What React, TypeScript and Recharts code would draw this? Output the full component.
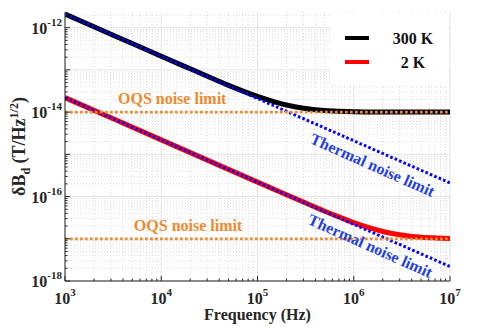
import React from "react";
import { CartesianGrid, Line, LineChart, ReferenceDot, XAxis, YAxis } from "recharts";

// noise curves (log-log)
const freq300 = [1e3, 2e3, 5e3, 1e4, 2e4, 5e4, 1e5, 1.5e5, 2e5, 3e5, 5e5, 7e5, 1e6, 2e6, 5e6, 1e7];
const dB300 = [2.1e-12, 1.05e-12, 4.2e-13, 2.1e-13, 1.06e-13, 4.3e-14, 2.35e-14, 1.75e-14, 1.47e-14, 1.23e-14, 1.09e-14, 1.05e-14, 1.025e-14, 1.008e-14, 1.002e-14, 1.0e-14];

const freq2K = [1e3, 1e4, 1e5, 2e5, 3e5, 5e5, 7e5, 1e6, 1.5e6, 2e6, 3e6, 4e6, 5e6, 7e6, 1e7];
const dB2K = [2.2e-14, 2.2e-15, 2.2e-16, 1.105e-16, 7.4e-17, 4.5e-17, 3.3e-17, 2.42e-17, 1.78e-17, 1.49e-17, 1.24e-17, 1.13e-17, 1.09e-17, 1.05e-17, 1.02e-17];

const limitFreq = [1e3, 1e7];
const thermal300 = [2.1e-12, 2.1e-16];
const thermal2K = [2.2e-14, 2.2e-18];
const oqs300 = [1e-14, 1e-14];
const oqs2K = [1e-17, 1e-17];

const seriesNames = ["300 K", "2 K"];
const xDecades = [1e3, 1e4, 1e5, 1e6, 1e7];
const yDecades = [1e-18, 1e-17, 1e-16, 1e-15, 1e-14, 1e-13, 1e-12];
const yLabelled = [-18, -16, -14, -12];
const yTop = 2.35e-12;

const toRows = (fs: number[], vs: number[]) => fs.map((f, i) => ({ f, v: vs[i] }));
const minorOf = (decades: number[], max: number) =>
  decades.flatMap((d) => [2, 3, 4, 5, 6, 7, 8, 9].map((m) => m * d)).filter((v) => v <= max);

const xMinor = minorOf(xDecades.slice(0, -1), 1e7);
const yMinor = minorOf(yDecades, yTop);
const xTicks = [...xDecades, ...xMinor].sort((a, b) => a - b);
const yTicks = [...yDecades, ...yMinor].sort((a, b) => a - b);

const FONT = '"Liberation Serif", "Times New Roman", serif';
const AX = "#262626";
const ORANGE = "#EE8A2F";
const BLUE = "#0000FF";
const BLUE_TXT = "#1f3fe6";

const expOf = (v: number) => Math.round(Math.log10(v));
const isDecade = (v: number) => Math.abs(v / 10 ** expOf(v) - 1) < 1e-6;

const XTick = (p: any) => {
  const { x, y, payload, side } = p;
  const v = payload.value;
  const major = isDecade(v);
  const len = major ? 5 : 2.5;
  const dir = side === "bottom" ? -1 : 1;
  return (
    <g>
      <line x1={x} y1={y} x2={x} y2={y + dir * len} stroke={AX} strokeWidth={1} />
      {side === "bottom" && major && (
        <text x={x} y={y + 23} textAnchor="middle" fontFamily={FONT} fontWeight="bold" fill={AX}>
          <tspan fontSize={16}>10</tspan>
          <tspan fontSize={11} dy={-8}>{expOf(v)}</tspan>
        </text>
      )}
    </g>
  );
};

const YTick = (p: any) => {
  const { x, y, payload, side } = p;
  const v = payload.value;
  const major = isDecade(v);
  const len = major ? 5 : 2.5;
  const dir = side === "left" ? 1 : -1;
  const e = expOf(v);
  return (
    <g>
      <line x1={x} y1={y} x2={x + dir * len} y2={y} stroke={AX} strokeWidth={1} />
      {side === "left" && major && yLabelled.includes(e) && (
        <text x={x - 3} y={y + 6} textAnchor="end" fontFamily={FONT} fontWeight="bold" fill={AX}>
          <tspan fontSize={16}>10</tspan>
          <tspan fontSize={11} dy={-8}>{e}</tspan>
        </text>
      )}
    </g>
  );
};

const note = (text: string, color: string, angle: number) => (props: any) => {
  const vb = props.viewBox;
  const cx = vb.x + vb.width / 2;
  const cy = vb.y + vb.height / 2;
  return (
    <text
      x={cx}
      y={cy}
      textAnchor="middle"
      dominantBaseline="central"
      transform={`rotate(${angle} ${cx} ${cy})`}
      fontFamily={FONT}
      fontWeight="bold"
      fontSize={16}
      fill={color}
    >
      {text}
    </text>
  );
};

const XLabel = (props: any) => {
  const vb = props.viewBox;
  return (
    <text x={vb.x + vb.width / 2} y={vb.y + 39} textAnchor="middle" fontFamily={FONT} fontWeight="bold" fontSize={16} fill={AX}>
      Frequency (Hz)
    </text>
  );
};

const YLabel = (props: any) => {
  const vb = props.viewBox;
  const cx = vb.x + 17;
  const cy = vb.y + vb.height / 2;
  return (
    <text x={cx} y={cy} textAnchor="middle" transform={`rotate(-90 ${cx} ${cy})`} fontFamily={FONT} fontWeight="bold" fontSize={18} fill={AX}>
      <tspan>δB</tspan>
      <tspan fontSize={12} dy={5}>d</tspan>
      <tspan dy={-5}> (T/Hz</tspan>
      <tspan fontSize={12} dy={-7}>1/2</tspan>
      <tspan dy={7}>)</tspan>
    </text>
  );
};

const Legend = () => (
  <svg width={118} height={71} style={{ position: "absolute", left: 322, top: 6 }}>
    <rect x={0} y={0} width={118} height={71} fill="#fff" />
    <line x1={15} y1={24} x2={39} y2={24} stroke="#000" strokeWidth={4} />
    <line x1={15} y1={48} x2={39} y2={48} stroke="#ff0000" strokeWidth={4} />
    <text x={83} y={29.5} textAnchor="middle" fontFamily={FONT} fontWeight="bold" fontSize={16} fill="#111">{seriesNames[0]}</text>
    <text x={83} y={53.5} textAnchor="middle" fontFamily={FONT} fontWeight="bold" fontSize={16} fill="#111">{seriesNames[1]}</text>
  </svg>
);

export default function App() {
  const xProps = { type: "number" as const, scale: "log" as const, domain: [1e3, 1e7], allowDataOverflow: true, ticks: xTicks, interval: 0, tickSize: 0, tickMargin: 0, axisLine: { stroke: AX } };
  const yProps = { type: "number" as const, scale: "log" as const, domain: [1e-18, yTop], allowDataOverflow: true, ticks: yTicks, interval: 0, tickSize: 0, tickMargin: 0, axisLine: { stroke: AX } };
  return (
    <div style={{ position: "relative", width: 490, height: 321 }}>
      <LineChart width={490} height={321} margin={{ top: 4, right: 48, bottom: 0, left: 0 }}>
        <CartesianGrid horizontalValues={yMinor} verticalValues={xMinor} stroke="#dcdcdc" strokeDasharray="1 2" />
        <CartesianGrid horizontalValues={yDecades} verticalValues={xDecades} stroke="#e4e4e4" />
        <XAxis {...xProps} dataKey="f" height={48} tick={(p: any) => <XTick {...p} side="bottom" />} label={{ content: XLabel }} />
        <XAxis {...xProps} xAxisId="top" orientation="top" height={0} tick={(p: any) => <XTick {...p} side="top" />} />
        <YAxis {...yProps} width={57} tick={(p: any) => <YTick {...p} side="left" />} label={{ content: YLabel }} />
        <YAxis {...yProps} yAxisId="right" orientation="right" width={0} tick={(p: any) => <YTick {...p} side="right" />} />
        <Line data={toRows(freq300, dB300)} dataKey="v" name={seriesNames[0]} type="monotone" stroke="#000" strokeWidth={5} dot={false} isAnimationActive={false} />
        <Line data={toRows(freq2K, dB2K)} dataKey="v" name={seriesNames[1]} type="monotone" stroke="#ff0000" strokeWidth={5} dot={false} isAnimationActive={false} />
        <Line data={toRows(limitFreq, thermal300)} dataKey="v" name="thermal300" stroke={BLUE} strokeWidth={3} strokeDasharray="2.6 2.2" dot={false} isAnimationActive={false} />
        <Line data={toRows(limitFreq, thermal2K)} dataKey="v" name="thermal2K" stroke={BLUE} strokeWidth={3} strokeDasharray="2.6 2.2" dot={false} isAnimationActive={false} />
        <Line data={toRows(limitFreq, oqs300)} dataKey="v" name="oqs300" stroke={ORANGE} strokeWidth={2.7} strokeDasharray="2.7 2.3" dot={false} isAnimationActive={false} />
        <Line data={toRows(limitFreq, oqs2K)} dataKey="v" name="oqs2K" stroke={ORANGE} strokeWidth={2.7} strokeDasharray="2.7 2.3" dot={false} isAnimationActive={false} />
        <ReferenceDot x={1.3e4} y={2.15e-14} r={1} fill="none" stroke="none" label={note("OQS noise limit", ORANGE, 0)} />
        <ReferenceDot x={1.9e4} y={2.1e-17} r={1} fill="none" stroke="none" label={note("OQS noise limit", ORANGE, 0)} />
        <ReferenceDot x={1.57e6} y={5.6e-16} r={1} fill="none" stroke="none" label={note("Thermal noise limit", BLUE_TXT, 24)} />
        <ReferenceDot x={1.49e6} y={6.8e-18} r={1} fill="none" stroke="none" label={note("Thermal noise limit", BLUE_TXT, 24)} />
      </LineChart>
      <Legend />
    </div>
  );
}
